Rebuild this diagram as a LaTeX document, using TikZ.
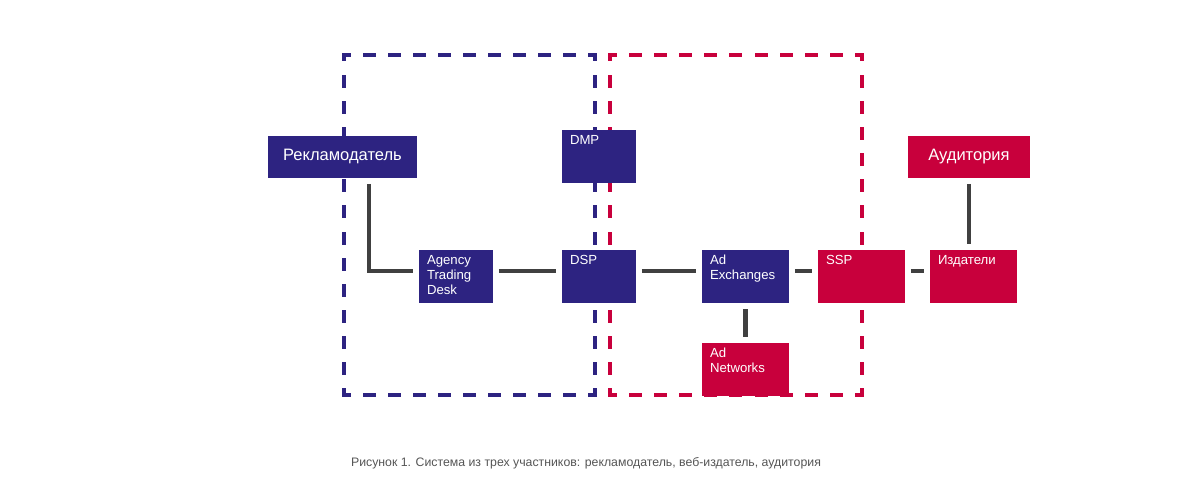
\documentclass[tikz,border=0pt]{standalone}
\usepackage{fontspec}
\setmainfont{Liberation Sans}
\usepackage{tikz}
\usetikzlibrary{positioning,calc}
\pgfdeclarelayer{bg}
\pgfsetlayers{bg,main}
\definecolor{adblue}{HTML}{2D2381}
\definecolor{adred}{HTML}{C8003C}
\definecolor{adgray}{HTML}{404040}
\definecolor{capgray}{HTML}{555555}
\tikzset{
  box/.style={anchor=north west, inner sep=0, outer sep=0, text=white},
  bigbox/.style={box, minimum height=0.85cm, font=\fontsize{9.4}{11}\selectfont},
  smallbox/.style={box, inner xsep=0.16cm, text height=0.3cm, text depth=0.78cm,
    align=left, font=\fontsize{7.5}{8.5}\selectfont},
  narrow/.style={smallbox, text width=1.16cm},
  wide/.style={smallbox, text width=1.42cm},
  frame/.style={line width=0.08cm, line cap=rect, dash phase=0.09cm},
  hdash/.style={frame, dash pattern=on 0.18cm off 0.322cm},
  hdashr/.style={frame, dash pattern=on 0.18cm off 0.324cm},
  vdash/.style={frame, dash pattern=on 0.18cm off 0.3431cm},
  link/.style={draw=adgray, line width=0.085cm, shorten <=0.12cm, shorten >=0.12cm}
}

\begin{document}
\begin{tikzpicture}[x=0.02cm, y=-0.02cm]
    \useasboundingbox (0,0) rectangle (1200,480);
    \node [bigbox, fill=adblue, minimum width=2.98cm] (rek) at (268,135.5) {Рекламодатель};
    \node [bigbox, fill=adred, minimum width=2.44cm] (aud) at (908,135.5) {Аудитория};
    \node [narrow, fill=adblue] (dmp) at (562,129.5) {DMP};
    \node [narrow, fill=adblue] (atd) at (419,249.5) {Agency\\Trading\\Desk};
    \node [narrow, fill=adblue] (dsp) at (562,249.5) {DSP};
    \node [wide, fill=adblue] (adx) at (702,249.5) {Ad\\Exchanges};
    \node [wide, fill=adred] (adn) at (702,342.5) {Ad\\Networks};
    \node [wide, fill=adred] (ssp) at (818,249.5) {SSP};
    \node [wide, fill=adred] (izd) at (930,249.5) {Издатели};

    \node [font=\fontsize{7}{8}\selectfont, text=capgray] (cap) at (586,463)
      {Рисунок 1. Система из трех участников: рекламодатель, веб-издатель, аудитория};

    \begin{pgfonlayer}{bg}    % dashed frames behind the boxes
        \coordinate (b1) at (344,55);  \coordinate (b2) at (595,55);
        \coordinate (b3) at (595,395); \coordinate (b4) at (344,395);
        \coordinate (r1) at (610,55);  \coordinate (r2) at (862,55);
        \coordinate (r3) at (862,395); \coordinate (r4) at (610,395);
        \draw [hdash, adblue] (b1) -- (b2);
        \draw [hdash, adblue] (b4) -- (b3);
        \draw [vdash, adblue] (b1) -- (b4);
        \draw [vdash, adblue] (b2) -- (b3);
        \draw [hdashr, adred] (r1) -- (r2);
        \draw [hdashr, adred] (r4) -- (r3);
        \draw [vdash, adred] (r1) -- (r4);
        \draw [vdash, adred] (r2) -- (r3);
    \end{pgfonlayer}

    \draw [link] ([xshift=2.02cm]rek.south west) |- ([yshift=0.11cm]atd.west);
    \draw [link] ([yshift=0.11cm]atd.east) -- ([yshift=0.11cm]dsp.west);
    \draw [link] ([yshift=0.11cm]dsp.east) -- ([yshift=0.11cm]adx.west);
    \draw [link] ([yshift=0.11cm]adx.east) -- ([yshift=0.11cm]ssp.west);
    \draw [link] ([yshift=0.11cm]ssp.east) -- ([yshift=0.11cm]izd.west);
    \draw [link] (adx.south) -- (adn.north);
    \draw [link] (aud.south) -- (aud.south |- izd.north);
\end{tikzpicture}
\end{document}
